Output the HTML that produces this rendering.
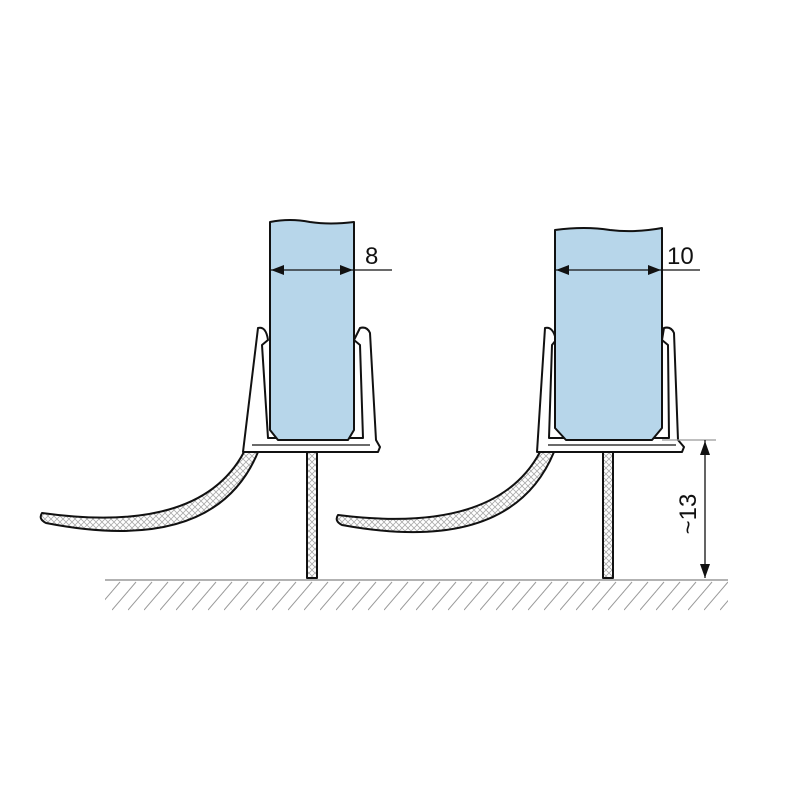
<!DOCTYPE html>
<html><head><style>html,body{margin:0;padding:0;background:#fff}svg{display:block}</style></head>
<body>
<svg width="800" height="800" viewBox="0 0 800 800" xmlns="http://www.w3.org/2000/svg">
<defs>
<pattern id="xh" width="6" height="6" patternUnits="userSpaceOnUse">
<path d="M0,0 L6,6 M6,0 L0,6" stroke="#aaa" stroke-width="0.8"/>
</pattern>
<pattern id="gh" width="16" height="32" patternUnits="userSpaceOnUse" patternTransform="translate(0,580)">
<path d="M0,30 L24,2" stroke="#999" stroke-width="1"/>
<path d="M-16,30 L8,2" stroke="#999" stroke-width="1"/>
</pattern>
</defs>

<rect x="105" y="581" width="623" height="30" fill="url(#gh)"/>
<line x1="105" y1="580" x2="728" y2="580" stroke="#999" stroke-width="1.5"/>

<g stroke="#111" stroke-width="2" stroke-linejoin="round">
<path d="M244,452 Q200,535 42,513 Q38,519 46,523 Q215,556 258,452 Z" fill="url(#xh)"/>
<rect x="307" y="452" width="10" height="126" fill="url(#xh)"/>
<path d="M243,452 L378,452 L380,447 L376,440 L370,333 Q367,326 360,328 L354,340 L360,345 L363,438 L268,438 L262,345 L268,340 Q266,326 258,328 Z" fill="#fff"/>
<path d="M252,445 L370,445" stroke-width="1.2"/>
<path d="M270,222 Q290,218 310,222 Q330,225 354,222 L354,430 L348,440 L278,440 L270,430 Z" fill="#b7d6ea"/>
<path d="M540,452 Q496,535 338,515 Q334,521 342,525 Q511,556 554,452 Z" fill="url(#xh)"/>
<rect x="603" y="452" width="10" height="126" fill="url(#xh)"/>
<path d="M537,452 L682,452 L684,447 L678,440 L674,333 Q671,326 664,328 L662,340 L668,345 L669,438 L549,438 L552,345 L556,340 Q553,326 545,328 Z" fill="#fff"/>
<path d="M548,445 L676,445" stroke-width="1.2"/>
<path d="M555,230 Q585,226 610,230 Q635,233 662,228 L662,428 L652,440 L566,440 L555,428 Z" fill="#b7d6ea"/>
</g>

<g stroke="#111" stroke-width="1.3">
<line x1="270" y1="270" x2="392" y2="270"/>
<line x1="555" y1="270" x2="700" y2="270"/>
<line x1="662" y1="440" x2="716" y2="440" stroke="#999"/>
<line x1="705" y1="440" x2="705" y2="578"/>
</g>
<g fill="#111">
<path d="M271,270 L284,265 L284,275 Z"/>
<path d="M353,270 L340,265 L340,275 Z"/>
<path d="M556,270 L569,265 L569,275 Z"/>
<path d="M661,270 L648,265 L648,275 Z"/>
<path d="M705,441 L700,455 L710,455 Z"/>
<path d="M705,578 L700,564 L710,564 Z"/>
</g>
<g font-family="Liberation Sans, sans-serif" font-size="24" fill="#111">
<text x="365" y="264">8</text>
<text x="667" y="264">10</text>
<text transform="translate(696,514) rotate(-90)" text-anchor="middle">~13</text>
</g>
</svg>
</body></html>
